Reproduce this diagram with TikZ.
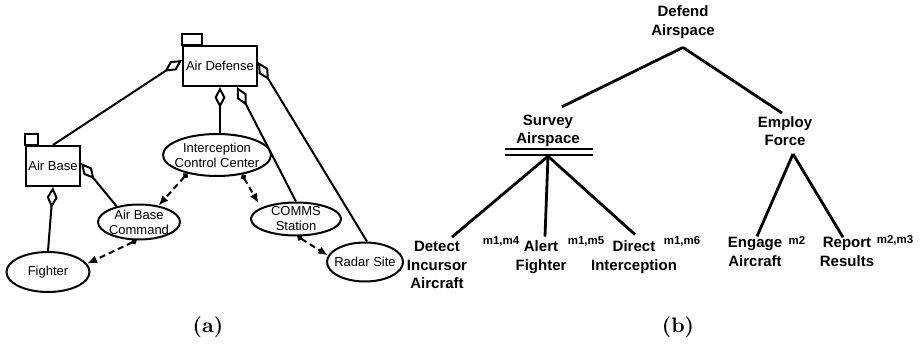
\documentclass[tikz,border=0pt]{standalone}
\usepackage{fontspec}
\newfontfamily\arialfont{Liberation Sans}
\newfontfamily\capfont{lmroman10-bold}[Extension=.otf]
\usetikzlibrary{arrows.meta,shapes.geometric,calc}

\begin{document}
\begin{tikzpicture}[x=1pt,y=-1pt,
  lbl/.style={font=\arialfont\fontsize{13}{15}\selectfont, align=center},
  pkgbox/.style={lbl, draw, line width=2pt, rectangle, inner sep=0pt},
  tabline/.style={line width=2pt},
  role/.style={lbl, draw, ellipse, line width=2pt, inner xsep=-12pt, inner ysep=-4pt},
  part/.style={line width=2pt, {Diamond[open,length=21pt,width=11pt]}-},
  msg/.style={line width=2pt, dash pattern=on 6pt off 4pt,
              {Circle[length=5.5pt]}-{Latex[length=10pt,width=8pt]}},
  goal/.style={font=\arialfont\bfseries\fontsize{15}{18.5}\selectfont, align=center, inner sep=0pt},
  tag/.style={font=\arialfont\bfseries\fontsize{11.5}{13}\selectfont, inner sep=0pt},
  tree/.style={line width=2.8pt},
  andbar/.style={line width=2.1pt},
  caplbl/.style={font=\capfont\fontsize{21}{25}\selectfont, inner sep=0pt}]

\useasboundingbox (0,0) rectangle (921,343);

% ---------- (a) organisation model ----------
\node[pkgbox, minimum width=74pt, minimum height=40pt] (AD) at (220,66) {Air Defense};
\draw[tabline] (AD.north west) rectangle ++(20,-11);
\node[pkgbox, minimum width=54pt, minimum height=40pt] (AB) at (53,166) {Air Base};
\draw[tabline] (AB.north west) rectangle ++(13,-11);

\node[role, minimum width=108pt, minimum height=42pt] (ICC) at (217,155) {Interception\\Control Center};
\node[role, minimum width=82pt, minimum height=35pt] (ABC) at (139,222) {Air Base\\Command};
\node[role, minimum width=90pt, minimum height=33pt] (CS) at (296,219) {COMMS\\Station};
\node[role, minimum width=83pt, minimum height=40pt] (FT) at (48,272) {Fighter};
\node[role, minimum width=76pt, minimum height=39pt] (RS) at (365,262) {Radar Site};

% composition links
\draw[part] ([yshift=6pt]AD.west) -- (AB.north);
\draw[part] ([yshift=4pt]AD.east) -- ([xshift=2pt]RS.north);
\draw[part] (AD.south) -- (AD.south |- ICC.north);
\draw[part] ([xshift=17pt]AD.south) -- (CS.north);
\draw[part] ([yshift=3pt]AB.east) -- (ABC.145);
\draw[part] (AB.south) -- (FT.north);

% message links
\draw[msg] (ICC.212) -- (ABC.40);
\draw[msg, shorten >=5pt] (ICC.322) -- (CS.162);
\draw[msg] (ABC.262) -- (FT.12);
\draw[msg] (CS.275) -- (RS.170);

\node[caplbl] (capA) at (208,327) {(a)};

% ---------- (b) goal tree ----------
\node[goal] (DA) at (683,22) {Defend\\Airspace};
\node[goal] (SA) at (548,131) {Survey\\Airspace};
\node[goal] (EF) at (785,131) {Employ\\Force};

\draw[tree] ([yshift=-9pt]DA.south) -- ([xshift=14pt,yshift=8pt]SA.north);
\draw[tree] ([yshift=-9pt]DA.south) -- ([xshift=-3pt,yshift=3pt]EF.north);

\draw[andbar] ([xshift=-43pt,yshift=-2pt]SA.south) -- ++(88,0);
\draw[andbar] ([xshift=-43pt,yshift=-8pt]SA.south) -- ++(88,0);
\coordinate (SAand) at ([yshift=-9pt]SA.south);
\coordinate (EFor) at ([xshift=8pt,yshift=-8pt]EF.south);

\node[goal] (DI) at (437,265) {Detect\\Incursor\\Aircraft};
\node[goal] (AF) at (541,257) {Alert\\Fighter};
\node[goal] (DR) at (634,257) {Direct\\Interception};
\node[goal] (EA) at (755,252) {Engage\\Aircraft};
\node[goal] (RR) at (847,252) {Report\\Results};

\draw[tree] (SAand) -- ([xshift=15pt,yshift=4pt]DI.north);
\draw[tree] (SAand) -- ([xshift=4pt,yshift=4pt]AF.north);
\draw[tree] (SAand) -- ([xshift=1pt,yshift=6pt]DR.north);
\draw[tree] (EFor) -- ([xshift=2pt,yshift=1pt]EA.north);
\draw[tree] (EFor) -- ([xshift=-4pt]RR.north);

\node[tag] (m1) at (501,241) {m1,m4};
\node[tag] (m2) at (586,241) {m1,m5};
\node[tag] (m3) at (682,241) {m1,m6};
\node[tag] (m4) at (797,240) {m2};
\node[tag] (m5) at (895,240) {m2,m3};

\node[caplbl] (capB) at (678,327) {(b)};
\end{tikzpicture}
\end{document}
